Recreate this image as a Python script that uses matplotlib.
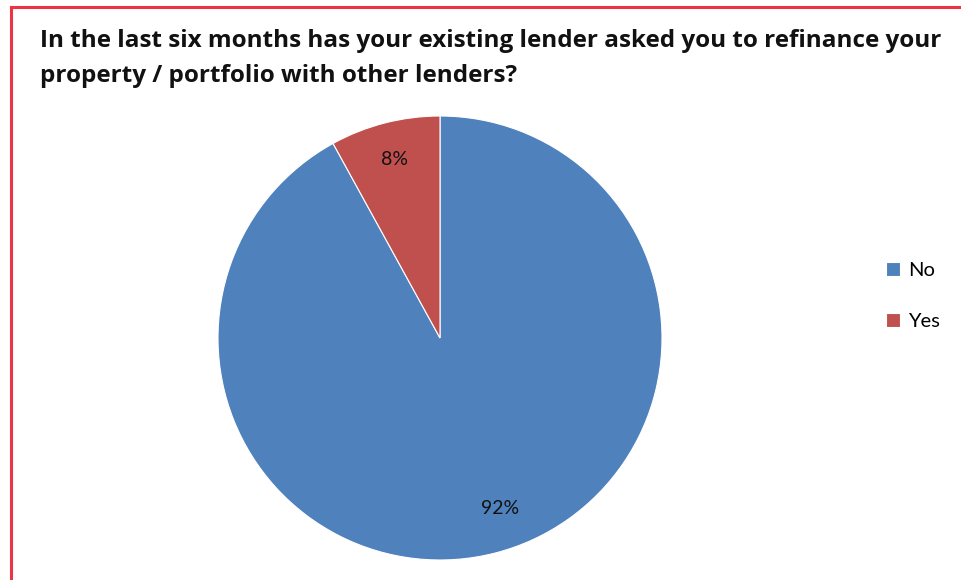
import matplotlib.pyplot as plt
from matplotlib.lines import Line2D

labels = ['No', 'Yes']
shares = [92, 8]
slice_colors = ['#4F81BD', '#C0504D']
title = ('In the last six months has your existing lender asked you to refinance your\n'
         'property / portfolio with other lenders?')

plt.rcParams['font.family'] = ['Lato', 'DejaVu Sans']

fig = plt.figure(figsize=(9.62, 5.8), dpi=100)

# red frame on the left and top edges only
W, H = 962, 580
fig.add_artist(Line2D([11 / W, 11 / W], [0, 1 - 7 / H], color='#EE3344', lw=2.2))
fig.add_artist(Line2D([11 / W, 1], [1 - 7 / H, 1 - 7 / H], color='#EE3344', lw=2.2))

fig.text(40 / W, 1 - 29 / H, title, ha='left', va='top', fontsize=17.5,
         fontweight='bold', family=['Open Sans', 'DejaVu Sans'], linespacing=1.62,
         color='#111111')

# pie centre ~ (440, 338), radius ~222 px
r = 222
ax = fig.add_axes([(440 - r) / W, 1 - (338 + r) / H, 2 * r / W, 2 * r / H])
wedges, texts, autotexts = ax.pie(
    shares, colors=slice_colors, startangle=90, counterclock=False,
    autopct='%d%%', pctdistance=0.83,
    wedgeprops=dict(edgecolor='white', linewidth=0.8),
    textprops=dict(fontsize=14, color='#111111'))
ax.set_aspect('equal')
ax.set_xlim(-1, 1)
ax.set_ylim(-1, 1)
# nudge the big label toward its usual spot
autotexts[0].set_position((0.27, -0.77))

leg = ax.legend(wedges, labels, loc='center left', frameon=False,
                fontsize=14.5, handlelength=0.7, handleheight=0.7, labelspacing=1.7,
                handletextpad=0.4, borderaxespad=0,
                bbox_to_anchor=(878 / W, 1 - 296 / H), bbox_transform=fig.transFigure)

fig.savefig('out.png', dpi=100)
